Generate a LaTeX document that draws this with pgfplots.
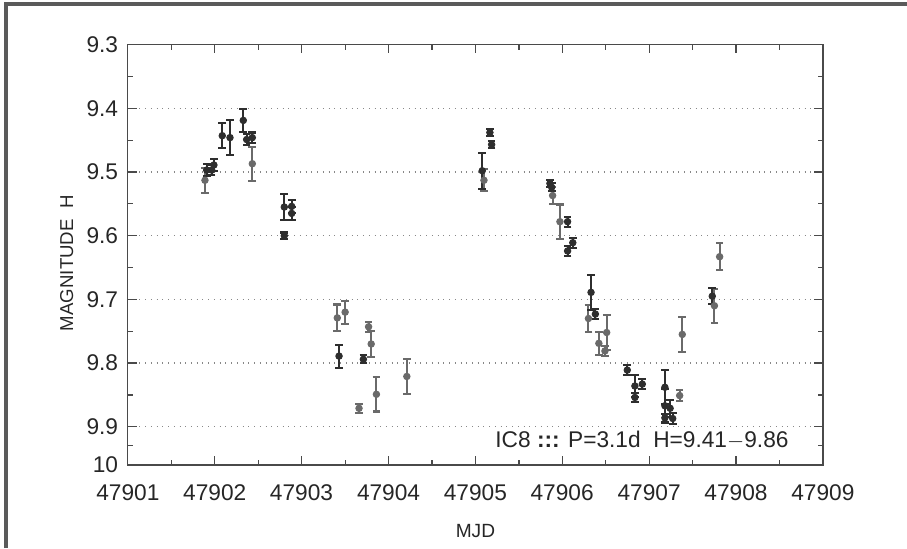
\documentclass[border=0pt]{standalone}
\usepackage{fontspec}
\setmainfont{Liberation Sans}
\usepackage{pgfplots}
\pgfplotsset{compat=1.18}
\usepackage{pgfplotstable}

\definecolor{dk}{HTML}{2E2E2E}
\definecolor{gr}{HTML}{6A6A6A}
\definecolor{ax}{HTML}{4A4A4A}
\definecolor{fr}{HTML}{5A5A5A}

\pgfplotstableread{
x y ey
47901.907 9.497 0.010
47901.964 9.497 0.008
47901.990 9.489 0.010
47902.086 9.443 0.020
47902.175 9.446 0.027
47902.328 9.419 0.018
47902.367 9.449 0.008
47902.432 9.446 0.008
47902.800 9.555 0.021
47902.800 9.600 0.005
47902.885 9.554 0.010
47902.885 9.565 0.010
47903.430 9.789 0.018
47903.710 9.794 0.006
47905.166 9.438 0.006
47905.186 9.457 0.006
47905.078 9.498 0.028
47905.857 9.518 0.006
47905.877 9.524 0.006
47906.060 9.578 0.008
47906.060 9.624 0.008
47906.120 9.611 0.008
47906.330 9.689 0.027
47906.380 9.723 0.008
47906.747 9.811 0.008
47906.835 9.836 0.017
47906.835 9.854 0.007
47906.920 9.833 0.008
47907.180 9.838 0.027
47907.180 9.867 0.027
47907.180 9.886 0.006
47907.240 9.871 0.013
47907.270 9.887 0.008
47907.725 9.695 0.013
}\darkdata

\pgfplotstableread{
x y ey
47901.887 9.513 0.020
47902.432 9.487 0.027
47903.410 9.729 0.021
47903.500 9.720 0.018
47903.770 9.743 0.008
47903.800 9.770 0.021
47903.660 9.871 0.007
47903.860 9.849 0.027
47904.210 9.821 0.027
47905.098 9.513 0.017
47905.888 9.537 0.014
47905.972 9.578 0.027
47906.300 9.730 0.021
47906.420 9.769 0.018
47906.490 9.781 0.008
47906.510 9.752 0.027
47907.350 9.851 0.008
47907.380 9.755 0.027
47907.750 9.710 0.027
47907.810 9.633 0.021
}\graydata

\begin{document}
\begin{tikzpicture}
\path[use as bounding box] (0,0) rectangle (13.340cm,8.060cm);
\draw[fr, line width=0.05cm] (0.09cm,0) -- (0.09cm,8.0cm) -- (13.34cm,8.0cm);
\begin{axis}[
  at={(1.881cm,1.221cm)}, anchor=south west,
  scale only axis, width=10.224cm, height=6.183cm,
  xmin=47901, xmax=47909, ymin=9.3, ymax=9.96,
  y dir=reverse,
  scaled x ticks=false, scaled y ticks=false,
  xtick={47901,...,47909},
  xticklabels={47901,47902,47903,47904,47905,47906,47907,47908,47909},
  minor xtick={47901.5,47902.5,47903.5,47904.5,47905.5,47906.5,47907.5,47908.5},
  ytick={9.3,9.4,9.5,9.6,9.7,9.8,9.9,9.96},
  yticklabels={9.3,9.4,9.5,9.6,9.7,9.8,9.9,10},
  minor ytick={9.35,9.45,9.55,9.65,9.75,9.85,9.93},
  tick pos=both, tick align=inside,
  major tick length=0.13cm, minor tick length=0.08cm,
  axis line style={ax, line width=0.5pt},
  every tick/.style={ax, line width=0.5pt},
  ymajorgrids, grid style={gr!80, dotted, line width=0.6pt},
  tick label style={font=\fontsize{9.5}{11}\selectfont, text=black!85},
  xticklabel style={yshift=-0.16cm},
  yticklabel style={xshift=-0.02cm},
  xlabel={MJD}, ylabel={MAGNITUDE\ \ H},
  xlabel style={font=\fontsize{8}{10}\selectfont, text=black!85,
    at={(axis description cs:0.5,-0.158)}, anchor=center},
  ylabel style={font=\fontsize{7.8}{10}\selectfont, text=black!85,
    at={(axis description cs:-0.088,0.48)}, anchor=center},
  /pgf/number format/assume math mode=true,
  clip=false,
]
\addplot[only marks, mark=*, mark size=1.35pt, color=gr,
  error bars/.cd, y dir=both, y explicit,
  error bar style={gr, line width=0.85pt},
  error mark options={rotate=90, gr, mark size=1.6pt, line width=0.85pt}]
  table[x=x, y=y, y error=ey] {\graydata};
\addplot[only marks, mark=*, mark size=1.35pt, color=dk,
  error bars/.cd, y dir=both, y explicit,
  error bar style={dk, line width=0.85pt},
  error mark options={rotate=90, dk, mark size=1.6pt, line width=0.85pt}]
  table[x=x, y=y, y error=ey] {\darkdata};
\node[anchor=east, font=\fontsize{9.5}{11}\selectfont, text=black!85]
  at (axis cs:47908.70,9.921) {IC8 \textbf{:::} P=3.1d\ \ H=9.41$-$9.86};
\end{axis}
\end{tikzpicture}
\end{document}
